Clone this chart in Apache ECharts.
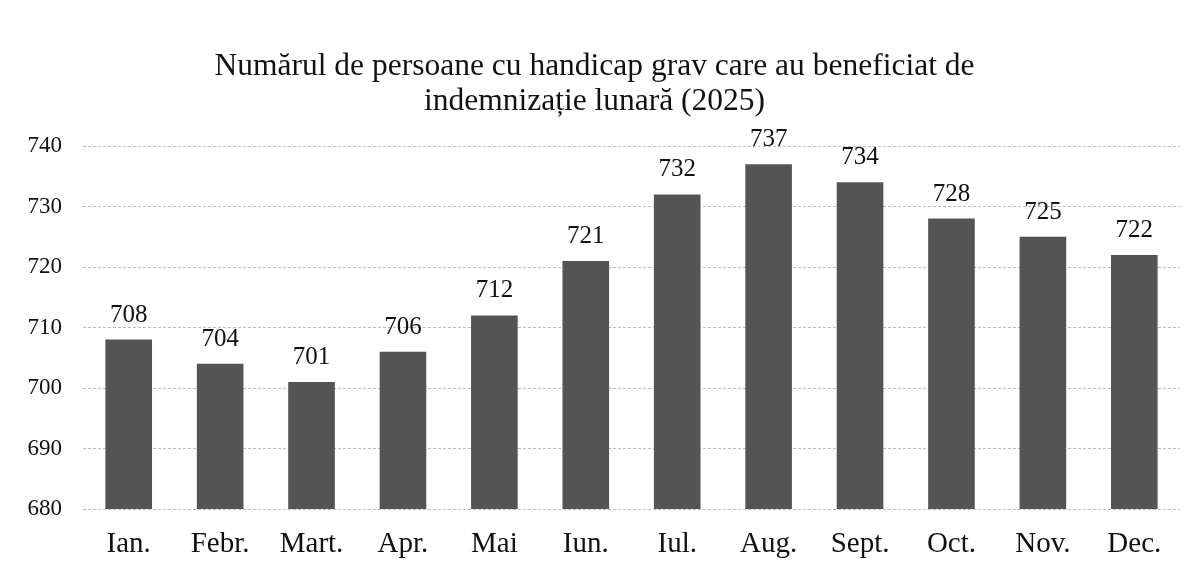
<!DOCTYPE html>
<html>
<head>
<meta charset="utf-8">
<script src="https://cdn.jsdelivr.net/npm/echarts@6/dist/echarts.min.js"></script>
<style>
  html, body { margin: 0; padding: 0; background: #fff; }
  #main { width: 1189px; height: 567px; }
</style>
</head>
<body>
<div id="main"></div>
<script>
// luni
const months = ['Ian.', 'Febr.', 'Mart.', 'Apr.', 'Mai', 'Iun.', 'Iul.', 'Aug.', 'Sept.', 'Oct.', 'Nov.', 'Dec.'];
// numar persoane
const persons = [708, 704, 701, 706, 712, 721, 732, 737, 734, 728, 725, 722];
const yTicks = [680, 690, 700, 710, 720, 730, 740];

const serif = '"Liberation Serif", "DejaVu Serif", serif';
const chart = echarts.init(document.getElementById('main'));

chart.setOption({
  backgroundColor: '#ffffff',
  animation: false,
  title: {
    text: 'Numărul de persoane cu handicap grav care au beneficiat de\nindemnizație lunară (2025)',
    left: 'center',
    top: 49,
    padding: 0,
    textStyle: {
      fontFamily: serif,
      fontWeight: 'normal',
      fontSize: 31.5,
      lineHeight: 35,
      color: '#111',
      align: 'center'
    }
  },
  grid: {
    left: 83,
    right: 9,
    top: 146,
    bottom: 58
  },
  xAxis: {
    type: 'category',
    data: months,
    axisLine: { show: false },
    axisTick: { show: false },
    axisLabel: {
      margin: 21,
      fontFamily: serif,
      fontSize: 29,
      color: '#111'
    }
  },
  yAxis: {
    type: 'value',
    min: yTicks[0],
    max: yTicks[yTicks.length - 1],
    interval: 10,
    axisLine: { show: false },
    axisTick: { show: false },
    axisLabel: {
      margin: 21,
      fontFamily: serif,
      fontSize: 23,
      color: '#111'
    },
    splitLine: {
      lineStyle: { color: '#bdbdbd', type: [3, 2], width: 1 }
    }
  },
  series: [{
    type: 'bar',
    data: persons,
    barWidth: '51%',
    itemStyle: { color: '#545454' },
    label: {
      show: true,
      position: 'top',
      distance: 12,
      fontFamily: serif,
      fontSize: 25,
      color: '#111'
    }
  }]
});
</script>
</body>
</html>
